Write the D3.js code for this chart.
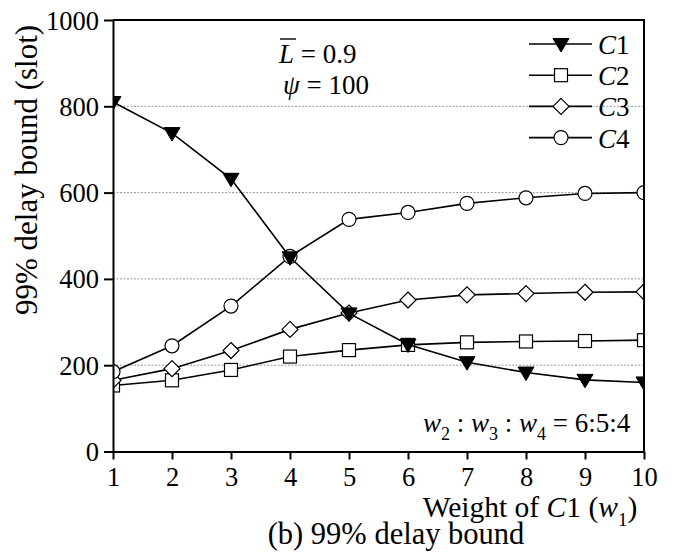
<!DOCTYPE html>
<html>
<head>
<meta charset="utf-8">
<script src="https://cdn.jsdelivr.net/npm/d3@7"></script>
<style>
  html, body { margin: 0; padding: 0; background: #fff; }
  svg { display: block; }
  svg text { font-family: "Liberation Serif", "Times New Roman", Times, "DejaVu Serif", serif !important; fill: #000; }
</style>
</head>
<body>
<svg id="chart" width="687" height="556"></svg>
<script>
// Weight of class 1 (w1)
const weights = [1, 2, 3, 4, 5, 6, 7, 8, 9, 10];
// 99% delay bound (slot) per class
const c1 = [810, 738, 632, 450, 320, 248, 207, 183, 166, 160];
const c2 = [153, 165, 189, 220, 235, 247, 253, 255, 256, 258];
const c3 = [165, 192, 234, 283, 321, 351, 363, 366, 369, 370];
const c4 = [185, 245, 337, 452, 538, 554, 575, 588, 598, 600];
const seriesNames = ["1", "2", "3", "4"];
const yTicks = [0, 200, 400, 600, 800, 1000];
const gridTicks = [200, 400, 600, 800];

const svg = d3.select("#chart");
const pLeft = 113, pRight = 644, pTop = 20, pBottom = 451.5;

const x = d3.scaleLinear().domain([1, 10]).range([pLeft, pRight]);
const y = d3.scaleLinear().domain([0, 1000]).range([pBottom, pTop]);

// clip region = plot area
svg.append("defs").append("clipPath").attr("id", "plotClip")
  .append("rect").attr("x", pLeft).attr("y", pTop)
  .attr("width", pRight - pLeft).attr("height", pBottom - pTop);

// dotted grid lines
svg.append("g").selectAll("line").data(gridTicks).join("line")
  .attr("x1", pLeft).attr("x2", pRight)
  .attr("y1", d => y(d)).attr("y2", d => y(d))
  .attr("stroke", "#999").attr("stroke-width", 1)
  .attr("stroke-dasharray", "2,1.5");

// marker shapes
const markers = {
  tri: g => g.append("path").attr("d", "M-8,-5.5L8,-5.5L0,8Z").attr("fill", "#000").attr("stroke", "#000").attr("stroke-width", 1),
  sq: g => g.append("rect").attr("x", -6.5).attr("y", -6.5).attr("width", 13).attr("height", 13).attr("fill", "#fff").attr("stroke", "#000").attr("stroke-width", 1.2),
  dia: g => g.append("path").attr("d", "M0,-8L8,0L0,8L-8,0Z").attr("fill", "#fff").attr("stroke", "#000").attr("stroke-width", 1.2),
  circ: g => g.append("circle").attr("r", 7).attr("fill", "#fff").attr("stroke", "#000").attr("stroke-width", 1.2)
};

const series = [
  { name: seriesNames[1], values: c2, m: "sq" },
  { name: seriesNames[2], values: c3, m: "dia" },
  { name: seriesNames[3], values: c4, m: "circ" },
  { name: seriesNames[0], values: c1, m: "tri" }
];

const line = d3.line().x((d, i) => x(weights[i])).y(d => y(d));
const plot = svg.append("g").attr("clip-path", "url(#plotClip)");

series.forEach(s => {
  const g = plot.append("g");
  g.append("path").datum(s.values).attr("d", line)
    .attr("fill", "none").attr("stroke", "#000").attr("stroke-width", 1.6);
  s.values.forEach((v, i) => {
    const mg = g.append("g").attr("transform", `translate(${x(weights[i])},${y(v)})`);
    markers[s.m](mg);
  });
});

// frame: top and right borders
svg.append("path")
  .attr("d", `M${pLeft},${pTop}H${pRight}V${pBottom}`)
  .attr("fill", "none").attr("stroke", "#000").attr("stroke-width", 2);

// axes
const xAxis = d3.axisBottom(x).tickValues(weights).tickSize(8).tickSizeOuter(0).tickFormat(d3.format("d"));
const yAxis = d3.axisLeft(y).tickValues(yTicks).tickSize(9).tickSizeOuter(0).tickFormat(d3.format("d"));

const gx = svg.append("g").attr("transform", `translate(0,${pBottom})`).call(xAxis);
const gy = svg.append("g").attr("transform", `translate(${pLeft},0)`).call(yAxis);
[gx, gy].forEach(g => {
  g.attr("font-family", null).attr("font-size", null);
  g.select(".domain").attr("stroke", "#000").attr("stroke-width", 2);
  g.selectAll(".tick line").attr("stroke", "#000").attr("stroke-width", 2);
  g.selectAll(".tick text").attr("fill", "#000").style("font-size", "26.5px");
});
gx.selectAll(".tick text").attr("y", 34.5).attr("dy", 0);
gy.selectAll(".tick text").attr("x", -14).attr("dy", "0.34em");

// axis titles
const xt = svg.append("text").attr("x", 530).attr("y", 516.5)
  .attr("text-anchor", "middle").style("font-size", "29.5px");
xt.append("tspan").text("Weight of ");
xt.append("tspan").attr("font-style", "italic").text("C");
xt.append("tspan").text("1 (");
xt.append("tspan").attr("font-style", "italic").text("w");
xt.append("tspan").attr("dy", 9).style("font-size", "19px").text("1");
xt.append("tspan").attr("dy", -9).text(")");

svg.append("text")
  .attr("transform", "translate(37,170) rotate(-90)")
  .attr("text-anchor", "middle").style("font-size", "31px")
  .text("99% delay bound (slot)");

svg.append("text").attr("x", 396).attr("y", 544)
  .attr("text-anchor", "middle").style("font-size", "30.5px")
  .text("(b) 99% delay bound");

// parameter annotations
const a1 = svg.append("text").attr("x", 279).attr("y", 63).style("font-size", "27px");
a1.append("tspan").attr("font-style", "italic").text("L");
a1.append("tspan").text(" = 0.9");
svg.append("line").attr("x1", 280).attr("x2", 296).attr("y1", 39).attr("y2", 39)
  .attr("stroke", "#000").attr("stroke-width", 1.4);

const a2 = svg.append("text").attr("x", 283).attr("y", 94).style("font-size", "27px");
a2.append("tspan").attr("font-style", "italic").text("ψ");
a2.append("tspan").text(" = 100");

const a3 = svg.append("text").attr("x", 423).attr("y", 432).style("font-size", "27px");
[["w", "2", " : "], ["w", "3", " : "], ["w", "4", " = 6:5:4"]].forEach(([v, sub, rest]) => {
  a3.append("tspan").attr("font-style", "italic").text(v);
  a3.append("tspan").attr("dy", 8).style("font-size", "18px").text(sub);
  a3.append("tspan").attr("dy", -8).text(rest);
});

// legend
const legendItems = [
  { name: seriesNames[0], m: "tri" },
  { name: seriesNames[1], m: "sq" },
  { name: seriesNames[2], m: "dia" },
  { name: seriesNames[3], m: "circ" }
];
const lg = svg.append("g");
legendItems.forEach((it, i) => {
  const yy = 44 + i * 31.2;
  lg.append("line").attr("x1", 529).attr("x2", 592).attr("y1", yy).attr("y2", yy)
    .attr("stroke", "#000").attr("stroke-width", 1.6);
  markers[it.m](lg.append("g").attr("transform", `translate(561,${yy})`));
  const t = lg.append("text").attr("x", 598).attr("y", yy + 10).style("font-size", "27px");
  t.append("tspan").attr("font-style", "italic").text("C");
  t.append("tspan").text(it.name);
});
</script>
</body>
</html>
